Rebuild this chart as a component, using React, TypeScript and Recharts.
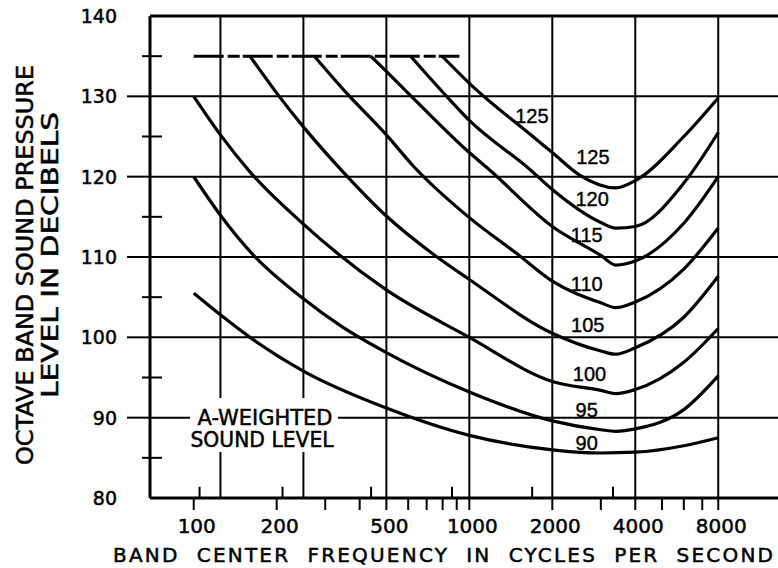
import React from 'react'
import { LineChart, Line, XAxis, YAxis, ReferenceLine, ReferenceDot } from 'recharts'

// contour points: band centre frequency (Hz) and octave band level (dB)
const curve90 = [
  { f: 100, db: 105.5 }, { f: 125, db: 102.8 }, { f: 160, db: 100.0 }, { f: 250, db: 95.8 },
  { f: 500, db: 91.2 }, { f: 1000, db: 87.8 }, { f: 2000, db: 86.0 }, { f: 3000, db: 85.6 },
  { f: 4000, db: 85.7 }, { f: 6000, db: 86.5 }, { f: 8000, db: 87.5 },
]
const curve95 = [
  { f: 100, db: 120.0 }, { f: 125, db: 115.2 }, { f: 164, db: 110.3 }, { f: 250, db: 104.8 },
  { f: 346, db: 101.3 }, { f: 500, db: 98.1 }, { f: 1000, db: 93.2 }, { f: 2000, db: 89.6 },
  { f: 3000, db: 88.5 }, { f: 3400, db: 88.3 }, { f: 4000, db: 88.6 }, { f: 6000, db: 91.0 },
  { f: 8000, db: 95.2 },
]
const curve100 = [
  { f: 100, db: 130.0 }, { f: 125, db: 125.2 }, { f: 160, db: 120.6 }, { f: 250, db: 114.1 },
  { f: 500, db: 105.9 }, { f: 1000, db: 100.0 }, { f: 2000, db: 94.5 }, { f: 3000, db: 93.4 },
  { f: 3400, db: 93.0 }, { f: 4000, db: 93.5 }, { f: 6000, db: 96.9 }, { f: 8000, db: 101.1 },
]
const curve105 = [
  { f: 160, db: 135 }, { f: 200, db: 130.4 }, { f: 250, db: 126.2 }, { f: 346, db: 120.7 },
  { f: 500, db: 115.1 }, { f: 736, db: 110.4 }, { f: 1000, db: 107.2 }, { f: 2000, db: 100.5 },
  { f: 3000, db: 98.3 }, { f: 3400, db: 97.9 }, { f: 4000, db: 98.7 }, { f: 6000, db: 102.5 },
  { f: 8000, db: 107.6 },
]
const curve110 = [
  { f: 274, db: 135 }, { f: 361, db: 130.3 }, { f: 500, db: 125.2 }, { f: 627, db: 121.3 },
  { f: 1000, db: 114.9 }, { f: 1490, db: 110.4 }, { f: 2000, db: 107.0 }, { f: 3000, db: 104.3 },
  { f: 3400, db: 103.7 }, { f: 4000, db: 104.4 }, { f: 6000, db: 108.5 }, { f: 8000, db: 113.6 },
]
const curve115 = [
  { f: 439, db: 135 }, { f: 500, db: 133.1 }, { f: 592, db: 130.6 }, { f: 1000, db: 123.0 },
  { f: 1196, db: 120.7 }, { f: 2000, db: 113.8 }, { f: 3000, db: 110.2 }, { f: 3400, db: 109.0 },
  { f: 4000, db: 109.5 }, { f: 6000, db: 114.2 }, { f: 8000, db: 120.0 },
]
const curve120 = [
  { f: 612, db: 135 }, { f: 797, db: 130.6 }, { f: 1000, db: 127.0 }, { f: 1658, db: 120.9 },
  { f: 2000, db: 118.4 }, { f: 3000, db: 114.3 }, { f: 3400, db: 113.6 }, { f: 4000, db: 113.8 },
  { f: 6000, db: 119.2 }, { f: 8000, db: 125.5 },
]
const curve125 = [
  { f: 797, db: 135 }, { f: 1016, db: 131.4 }, { f: 1658, db: 125.3 }, { f: 2000, db: 123.0 },
  { f: 2512, db: 120.2 }, { f: 3400, db: 118.6 }, { f: 4000, db: 119.5 }, { f: 6000, db: 125.0 },
  { f: 8000, db: 129.8 },
]
const capLine = [{ f: 100, db: 135 }, { f: 920, db: 135 }]

const curves = [curve90, curve95, curve100, curve105, curve110, curve115, curve120, curve125]

// curve labels (text, frequency, level)
const curveLabels = [
  { t: '125', f: 1686, db: 127.6 },
  { t: '125', f: 2806, db: 122.4 },
  { t: '120', f: 2790, db: 117.2 },
  { t: '115', f: 2666, db: 112.8 },
  { t: '110', f: 2666, db: 106.6 },
  { t: '105', f: 2690, db: 101.6 },
  { t: '100', f: 2730, db: 95.5 },
  { t: '95', f: 2666, db: 91.0 },
  { t: '90', f: 2666, db: 86.9 },
]

const xTicks = [100, 200, 300, 400, 500, 600, 700, 800, 900, 1000, 2000, 3000, 4000, 5000, 6000, 7000, 8000]
const xLabelled = [100, 200, 500, 1000, 2000, 4000, 8000]
const xGrid = [125, 250, 500, 1000, 2000, 4000, 8000]
const xUpTicks = [105, 210, 440, 865, 1690, 3320]
const yTicks = [80, 85, 90, 95, 100, 105, 110, 115, 120, 125, 130, 135, 140]
const yGrid = [90, 100, 110, 120, 130]

const W = 778
const H = 568
const PLOT_LEFT = 150
const PLOT_BOTTOM = 498
const FONT = 'DejaVu Sans, Arial, sans-serif'
const INK = { fill: '#000', stroke: '#000', strokeWidth: 0.5 }

const XTick = (props: any) => {
  const { x, payload } = props
  const v = payload.value
  return (
    <g>
      <line x1={x} x2={x} y1={PLOT_BOTTOM} y2={PLOT_BOTTOM + 12} stroke="#000" strokeWidth={2} />
      {xLabelled.includes(v) && (
        <text x={x + 3} y={533} textAnchor="middle" fontSize={20} fontFamily={FONT} {...INK}>
          {v}
        </text>
      )}
    </g>
  )
}

const YTick = (props: any) => {
  const { y, payload } = props
  const v = payload.value
  const major = v % 10 === 0
  return (
    <g>
      {major && v !== 80 && v !== 140 && (
        <line x1={127} x2={PLOT_LEFT} y1={y} y2={y} stroke="#000" strokeWidth={2} />
      )}
      {!major && <line x1={PLOT_LEFT - 8} x2={PLOT_LEFT + 12} y1={y} y2={y} stroke="#000" strokeWidth={2} />}
      {major && (
        <text x={117} y={y} textAnchor="end" dominantBaseline="central" fontSize={19} fontFamily={FONT} {...INK}>
          {v}
        </text>
      )}
    </g>
  )
}

export default function App() {
  return (
    <div style={{ position: 'absolute', left: 0, top: 0, width: W, height: H, background: '#fff' }}>
      <LineChart width={W} height={H} margin={{ top: 16, right: 0, bottom: 0, left: 0 }}>
        <XAxis
          dataKey="f"
          type="number"
          scale="log"
          domain={[69.4, 13180]}
          allowDataOverflow
          ticks={xTicks}
          interval={0}
          height={70}
          tickLine={false}
          axisLine={{ stroke: '#000', strokeWidth: 3 }}
          tick={<XTick />}
        />
        <YAxis
          type="number"
          domain={[80, 140]}
          ticks={yTicks}
          interval={0}
          width={150}
          tickLine={false}
          axisLine={{ stroke: '#000', strokeWidth: 3 }}
          tick={<YTick />}
        />
        {xGrid.map((g) => (
          <ReferenceLine key={'vx' + g} x={g} stroke="#000" strokeWidth={2} />
        ))}
        {yGrid.map((g) => (
          <ReferenceLine key={'hy' + g} y={g} stroke="#000" strokeWidth={2} />
        ))}
        <ReferenceLine y={140} stroke="#000" strokeWidth={3} />
        {xUpTicks.map((t) => (
          <ReferenceLine
            key={'up' + t}
            segment={[{ x: t, y: 80 }, { x: t, y: 81.4 }]}
            stroke="#000"
            strokeWidth={2}
          />
        ))}
        <Line
          data={capLine}
          dataKey="db"
          type="linear"
          stroke="#000"
          strokeWidth={3}
          strokeDasharray="30 4 12 3"
          dot={false}
          isAnimationActive={false}
        />
        {curves.map((c, i) => (
          <Line
            key={'c' + i}
            data={c}
            dataKey="db"
            type="monotone"
            stroke="#000"
            strokeWidth={3.2}
            dot={false}
            isAnimationActive={false}
          />
        ))}
        {curveLabels.map((l, i) => (
          <ReferenceDot
            key={'l' + i}
            x={l.f}
            y={l.db}
            r={0}
            fill="none"
            stroke="none"
            label={{
              value: l.t,
              position: 'center',
              fontSize: 20,
              fontFamily: 'Liberation Sans, Arial, sans-serif',
              fill: '#000',
              stroke: '#000',
              strokeWidth: 0.4,
            }}
          />
        ))}
      </LineChart>
      <svg
        width={W}
        height={H}
        style={{ position: 'absolute', left: 0, top: 0, pointerEvents: 'none' }}
      >
        <rect x={190} y={398} width={148} height={54} fill="#fff" />
        <text x={265} y={425} textAnchor="middle" fontSize={21} fontFamily={FONT} textLength={135} lengthAdjust="spacingAndGlyphs" {...INK}>
          A-WEIGHTED
        </text>
        <text x={262} y={447} textAnchor="middle" fontSize={21} fontFamily={FONT} textLength={143} lengthAdjust="spacingAndGlyphs" {...INK}>
          SOUND LEVEL
        </text>
        <text
          transform="translate(33,265) rotate(-90)"
          textAnchor="middle"
          fontSize={23}
          fontFamily={FONT}
          textLength={400}
          lengthAdjust="spacingAndGlyphs"
          {...INK}
        >
          OCTAVE BAND SOUND PRESSURE
        </text>
        <text
          transform="translate(58,255) rotate(-90)"
          textAnchor="middle"
          fontSize={23}
          fontFamily={FONT}
          textLength={286}
          lengthAdjust="spacingAndGlyphs"
          {...INK}
        >
          LEVEL IN DECIBELS
        </text>
        <text
          x={443}
          y={562}
          textAnchor="middle"
          fontSize={20}
          fontFamily={FONT}
          textLength={660}
          lengthAdjust="spacing"
          style={{ whiteSpace: 'pre' }}
          {...INK}
        >
          {'BAND  CENTER  FREQUENCY  IN  CYCLES  PER  SECOND'}
        </text>
      </svg>
    </div>
  )
}
